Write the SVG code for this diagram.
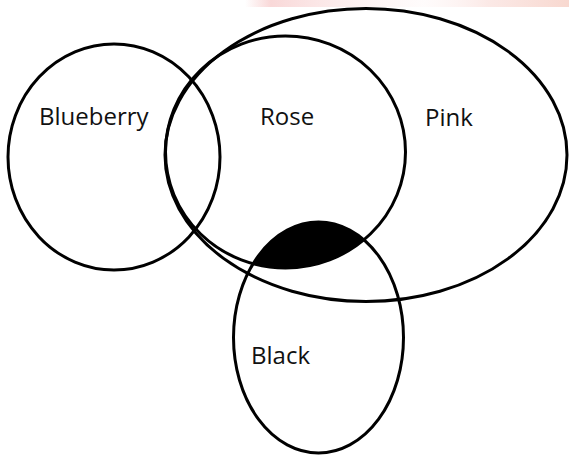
<svg xmlns="http://www.w3.org/2000/svg" width="569" height="457" viewBox="0 0 569 457">
  <style>
    .set { fill: none; stroke: #000; stroke-width: 3; }
    .lbl { font-family: "Open Sans", "Noto Sans", sans-serif; font-size: 24px; fill: #111; }
  </style>
  <defs>
    <clipPath id="roseClip">
      <ellipse cx="285.5" cy="152" rx="120" ry="116"/>
    </clipPath>
    <linearGradient id="wm" x1="0" y1="0" x2="1" y2="0">
      <stop offset="0" stop-color="#f4b8b8" stop-opacity="0"/>
      <stop offset="0.08" stop-color="#f4b8b8" stop-opacity="0.55"/>
      <stop offset="0.3" stop-color="#f6c4c4" stop-opacity="0.3"/>
      <stop offset="0.55" stop-color="#fde8e8" stop-opacity="0.15"/>
      <stop offset="0.75" stop-color="#f4c0b8" stop-opacity="0.35"/>
      <stop offset="1" stop-color="#f2b8a8" stop-opacity="0.55"/>
    </linearGradient>
  </defs>
  <rect x="0" y="0" width="569" height="457" fill="#fff"/>
  <rect x="245" y="0" width="324" height="7" fill="url(#wm)"/>
  <g id="overlap">
    <ellipse cx="318.5" cy="337.5" rx="85" ry="115.5" fill="#000" clip-path="url(#roseClip)"/>
  </g>
  <g id="blueberry">
    <ellipse class="set" cx="114" cy="157" rx="106" ry="113"/>
    <text class="lbl" x="39" y="124.5">Blueberry</text>
  </g>
  <g id="pink">
    <ellipse class="set" cx="366" cy="155" rx="201" ry="146.5"/>
    <text class="lbl" x="425" y="126">Pink</text>
  </g>
  <g id="rose">
    <ellipse class="set" cx="285.5" cy="152" rx="120" ry="116"/>
    <text class="lbl" x="260" y="124.5">Rose</text>
  </g>
  <g id="black">
    <ellipse class="set" cx="318.5" cy="337.5" rx="85" ry="115.5"/>
    <text class="lbl" x="251" y="364">Black</text>
  </g>
  <g id="connectors"/>
</svg>
